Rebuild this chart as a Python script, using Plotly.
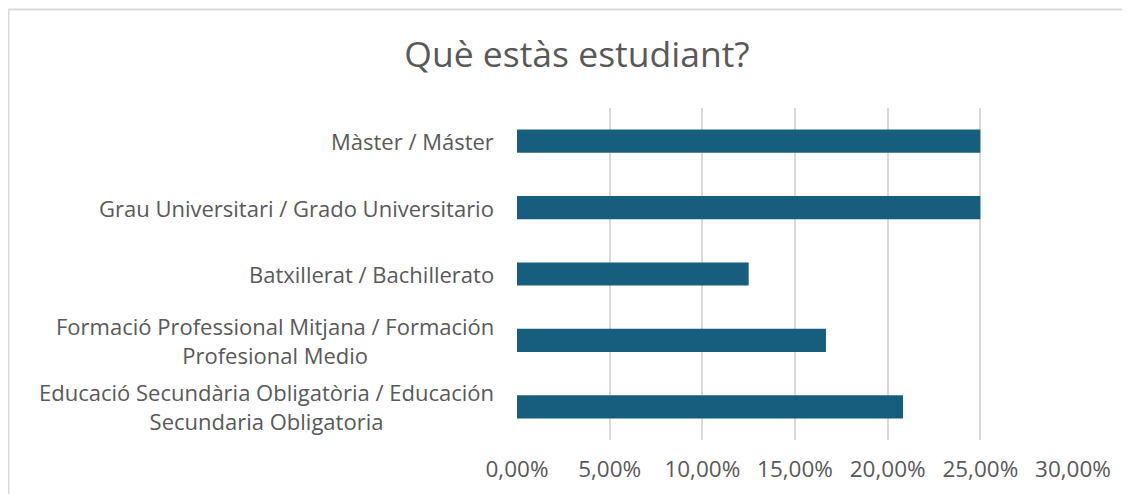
import plotly.graph_objects as go

categories = [
    "Màster / Máster",
    "Grau Universitari / Grado Universitario",
    "Batxillerat / Bachillerato",
    "Formació Professional Mitjana / Formación<br>Profesional Medio",
    "Educació Secundària Obligatòria / Educación<br>Secundaria Obligatoria",
]
shares = [0.25, 0.25, 0.125, 0.1667, 0.2083]
tick_vals = [0, 0.05, 0.10, 0.15, 0.20, 0.25, 0.30]

bar_color = "#175E7E"
grid_color = "#D9D9D9"
text_color = "#595959"
font_family = "Open Sans, Liberation Sans, sans-serif"

fig = go.Figure()
fig.add_trace(go.Bar(
    x=shares,
    y=categories,
    orientation="h",
    marker=dict(color=bar_color, line=dict(width=0)),
    hoverinfo="x+y",
))

# category labels as annotations so multi-line ones are centred like the original
for cat in categories:
    fig.add_annotation(
        x=0, xref="paper", y=cat, yref="y",
        text=cat, showarrow=False,
        xanchor="right", xshift=-21, align="center",
        font=dict(family=font_family, size=22, color=text_color),
    )

# chart frame (cut off at right and bottom in the original)
fig.add_shape(
    type="rect", xref="paper", yref="paper",
    x0=-0.9146, x1=1.3, y0=-0.4, y1=1.2967,
    line=dict(color=grid_color, width=2), layer="below",
)

# the page body adds an 8px offset, so margins are shifted to compensate
fig.update_layout(
    width=1130, height=494,
    margin=dict(l=509, r=65, t=100, b=62),
    paper_bgcolor="white", plot_bgcolor="white",
    bargap=0.65,
    showlegend=False,
    title=dict(
        text="Què estàs estudiant?",
        x=569 / 1130, xref="container", xanchor="center",
        y=1 - 47 / 494, yref="container", yanchor="middle",
        font=dict(family=font_family, size=35.5, color=text_color),
    ),
    separators=",.",
    xaxis=dict(
        range=[0, 0.30], tickvals=tick_vals, tickformat=".2%",
        showgrid=True, gridcolor=grid_color, gridwidth=1.5,
        zeroline=False, showline=False, ticks="",
        ticklabelstandoff=13,
        tickfont=dict(family=font_family, size=22.5, color=text_color),
    ),
    yaxis=dict(
        autorange="reversed", showticklabels=False, showgrid=False,
        zeroline=False, showline=False, ticks="",
    ),
)

fig.write_html("out.html")
